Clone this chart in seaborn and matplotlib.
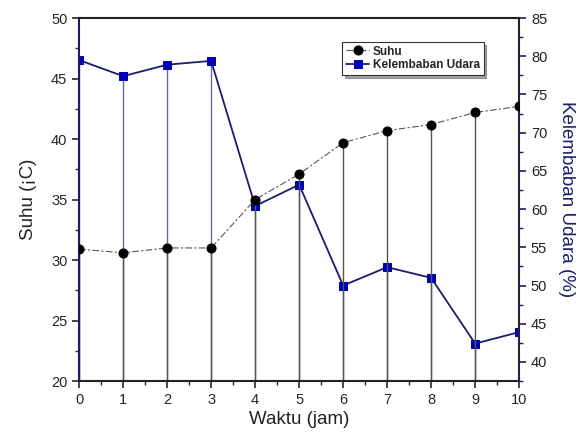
import numpy as np
import pandas as pd
import seaborn as sns
import matplotlib
matplotlib.use("Agg")
import matplotlib.pyplot as plt
from matplotlib.ticker import MultipleLocator

waktu = [0, 1, 2, 3, 4, 5, 6, 7, 8, 9, 10]
suhu = [30.9, 30.6, 31.0, 31.0, 35.0, 37.1, 39.7, 40.7, 41.2, 42.2, 42.7]
kelembaban = [79.5, 77.4, 78.9, 79.4, 60.4, 63.2, 50.0, 52.4, 51.0, 42.4, 43.9]

df = pd.DataFrame({"Waktu": waktu, "Suhu": suhu, "Kelembaban": kelembaban})

sns.set_theme(style="ticks")
plt.rcParams['font.family'] = ['Liberation Sans', 'DejaVu Sans']

navy = "#1c1c6b"
blue = "#0000b4"

fig, ax = plt.subplots(figsize=(5.82, 4.41), dpi=100)
fig.subplots_adjust(left=0.136, right=0.892, top=0.959, bottom=0.136)
ax2 = ax.twinx()

ax.set_xlim(0, 10)
ax.set_ylim(20, 50)
ax2.set_ylim(37.5, 85)

# drop lines
ax.vlines(df["Waktu"], 20, df["Suhu"], colors="#555555", lw=1.0, zorder=1)
ax2.vlines(df["Waktu"], 37.5, df["Kelembaban"], colors="#6a6a9a", lw=1.0, zorder=1)

sns.lineplot(data=df, x="Waktu", y="Suhu", ax=ax, color="#555555", lw=0.8,
             linestyle=(0, (6, 2, 2, 2)), marker="o", markersize=6.5,
             markerfacecolor="black", markeredgecolor="black", label="Suhu", legend=False, zorder=3)
sns.lineplot(data=df, x="Waktu", y="Kelembaban", ax=ax2, color=navy, lw=1.3,
             marker="s", markersize=6, markerfacecolor=blue, markeredgecolor=blue,
             label="Kelembaban Udara", legend=False, zorder=3)

ax.set_zorder(ax2.get_zorder() + 1)
ax.patch.set_visible(False)

ax.xaxis.set_major_locator(MultipleLocator(1))
ax.xaxis.set_minor_locator(MultipleLocator(0.5))
ax.yaxis.set_major_locator(MultipleLocator(5))
ax.yaxis.set_minor_locator(MultipleLocator(2.5))
ax2.yaxis.set_major_locator(MultipleLocator(5))
ax2.yaxis.set_minor_locator(MultipleLocator(2.5))
ax2.set_yticks(np.arange(40, 86, 5))

for a in (ax, ax2):
    a.tick_params(which="major", length=5, width=1.2, direction="out", labelsize=10.5)
    a.tick_params(which="minor", length=3, width=1.0, direction="out")
ax2.tick_params(axis="y", which="both", colors=navy, labelcolor="#222222")

for s in ["top", "bottom", "left"]:
    ax.spines[s].set_linewidth(1.5)
    ax.spines[s].set_color("#222222")
ax.spines["left"].set_color(navy)
ax2.spines["right"].set_color(navy)
ax2.spines["right"].set_linewidth(1.5)
for s in ["top", "bottom", "left"]:
    ax2.spines[s].set_visible(False)

ax.set_xlabel("Waktu (jam)", fontsize=13.5, color="#222222", labelpad=3)
ax.set_ylabel("Suhu (¡C)", fontsize=13.5, color="#222222", labelpad=10)
ax2.set_ylabel("Kelembaban Udara (%)", fontsize=13.5, color=navy, rotation=-90, labelpad=20)

h1, l1 = ax.get_legend_handles_labels()
h2, l2 = ax2.get_legend_handles_labels()
leg = ax.legend(h1 + h2, l1 + l2, loc="upper left", bbox_to_anchor=(0.598, 0.934),
                borderaxespad=0.0,
                frameon=True, fancybox=False, shadow=True,
                borderpad=0.3, handlelength=2.0, handletextpad=0.3, labelspacing=0.15,
                prop={"weight": "bold", "size": 8.5})
leg.get_frame().set_edgecolor("#333333")
leg.get_frame().set_linewidth(0.8)

fig.savefig("out.png", dpi=100, facecolor="white")
